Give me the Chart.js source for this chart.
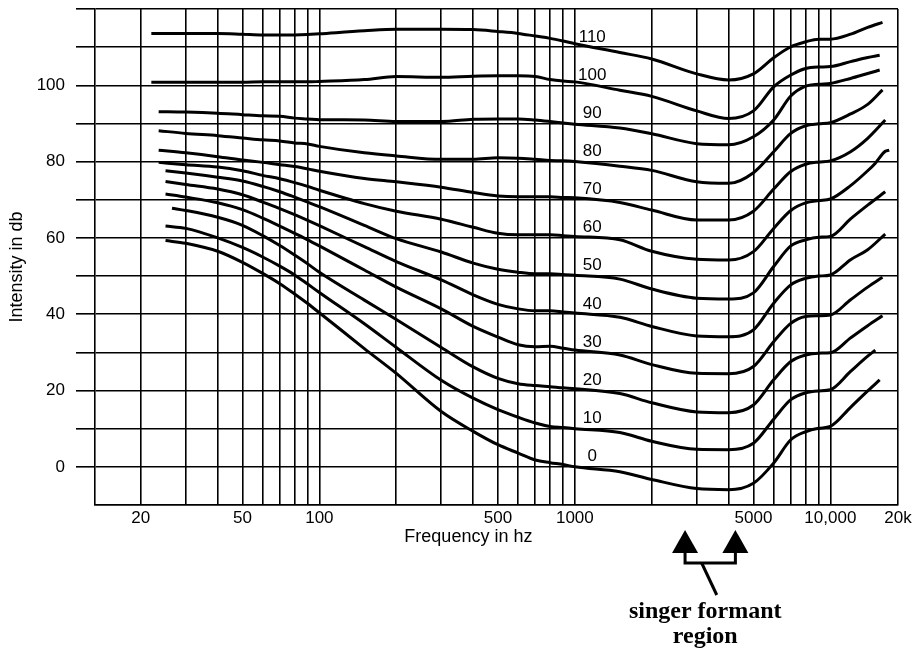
<!DOCTYPE html>
<html>
<head>
<meta charset="utf-8">
<script src="https://cdn.jsdelivr.net/npm/chart.js@4.4.1/dist/chart.umd.min.js"></script>
<style>
  html, body { margin: 0; padding: 0; background: #fff; }
</style>
</head>
<body>
<canvas id="chart" width="916" height="651"></canvas>
<script>
// Frequencies (Hz) shared by every curve; null = curve not drawn there
const freqs = [22, 23.5, 25, 26.5, 30, 40, 50, 60, 70, 80, 90, 100, 150, 200, 300, 400, 500, 600, 700, 800, 900,
  1000, 1500, 2000, 3000, 4000, 5000, 6000, 7000, 8000, 9000, 10000, 12000, 14000, 15000, 15600, 16000, 16400, 17000]

// Equal-loudness curves, intensity in dB
const phon110 = [113.6, null, null, null, 113.6, 113.6, 113.4, 113.2, 113.2, 113.2, 113.3, 113.5, 114.3, 114.7, 114.7, 114.6, 114.1, 113.6, 112.9, 112.3, 111.6,
  110.9, 108.6, 106.9, 103.0, 101.4, 103.0, 107.2, 110.1, 111.4, 112.1, 112.1, 113.4, 115.2, null, null, 116.5, null, null]
const phon100 = [100.8, null, null, null, 100.8, 100.8, 100.8, 100.9, 100.9, 100.9, 100.9, 101.0, 101.5, 102.3, 102.1, 102.4, 102.5, 102.5, 102.3, 101.5, 101.1,
  100.9, 98.7, 97.1, 93.3, 91.3, 93.3, 99.6, 102.7, 104.4, 104.8, 104.9, 106.2, 107.3, null, 107.9, null, null, null]
const phon90 = [null, 93.1, null, null, 93.0, 92.7, 92.3, 92.0, 91.9, 91.4, 91.2, 91.0, 90.9, 90.5, 90.5, 91.1, 91.2, 91.2, 90.9, 90.5, 90.1,
  89.8, 88.8, 87.3, 84.7, 84.4, 86.5, 90.9, 97.2, 99.8, 100.3, 100.5, 101.8, 103.1, null, 104.0, null, null, null]
const phon80 = [null, 88.1, null, null, 87.4, 86.8, 86.2, 85.7, 85.4, 84.9, 84.6, 84.0, 82.3, 81.5, 80.6, 80.6, 81.0, 80.9, 80.6, 80.3, 80.2,
  80.0, 78.8, 77.7, 74.7, 74.3, 77.1, 82.6, 87.4, 89.4, 89.9, 90.2, 92.5, 95.0, null, null, 98.8, null, null]
const phon70 = [null, 83.0, null, null, 82.3, 81.3, 80.4, 79.8, 79.2, 78.7, 78.1, 77.5, 75.6, 74.7, 73.3, 71.9, 71.0, 70.8, 70.8, 70.8, 70.6,
  70.5, 69.3, 67.3, 64.7, 64.7, 67.0, 72.8, 77.4, 79.3, 79.9, 80.2, 82.6, 86.1, null, null, null, 90.9, null]
const phon60 = [null, 79.8, null, null, 79.2, 78.6, 77.6, 76.4, 75.5, 74.5, 73.5, 72.5, 69.0, 67.0, 64.9, 62.8, 61.2, 60.8, 60.8, 60.8, 60.6,
  60.4, 59.5, 56.5, 54.4, 54.2, 56.4, 62.5, 67.2, 69.2, 69.8, 70.2, 73.7, 77.6, 79.6, null, null, 82.7, 83.0]
const phon50 = [null, null, 77.6, null, 77.0, 75.9, 74.9, 73.5, 72.1, 70.7, 69.4, 68.2, 63.3, 59.8, 56.3, 53.4, 51.8, 51.0, 50.6, 50.6, 50.4,
  50.2, 49.2, 46.6, 44.2, 44.0, 45.6, 52.5, 57.9, 59.5, 60.2, 60.4, 65.0, 68.6, null, null, null, 72.1, null]
const phon40 = [null, null, 74.8, null, 74.0, 72.8, 71.3, 69.4, 67.7, 66.1, 64.6, 63.2, 57.7, 53.8, 49.0, 45.1, 42.6, 41.4, 40.9, 40.9, 40.6,
  40.3, 39.2, 36.8, 34.3, 34.1, 35.9, 42.9, 47.7, 49.4, 50.0, 50.3, 54.3, 56.9, null, null, null, 61.0, null]
const phon30 = [null, null, 71.5, null, 70.7, 69.2, 67.4, 65.2, 63.1, 61.2, 59.5, 57.9, 51.6, 47.1, 41.4, 36.8, 34.0, 32.0, 31.5, 31.6, 31.1,
  30.6, 29.3, 26.8, 24.5, 24.4, 26.3, 32.8, 37.6, 39.4, 39.6, 39.8, 43.8, 47.1, null, null, 49.7, null, null]
const phon20 = [null, null, null, 67.8, 67.2, 65.4, 63.3, 60.6, 58.0, 55.5, 53.2, 51.0, 43.7, 38.6, 31.3, 26.2, 23.2, 21.8, 21.3, 21.0, 20.7,
  20.5, 19.2, 16.8, 14.4, 14.2, 16.2, 22.8, 27.6, 29.3, 29.8, 29.9, 33.8, 37.0, null, null, 39.6, null, null]
const phon10 = [null, null, 63.1, null, 62.5, 60.0, 57.5, 55.0, 52.6, 50.3, 47.9, 45.7, 37.5, 31.3, 22.7, 18.0, 15.0, 13.0, 11.5, 10.6, 10.3,
  10.0, 9.0, 6.7, 4.6, 4.5, 6.2, 12.5, 17.6, 19.4, 19.9, 20.2, 25.0, 29.0, 30.6, null, null, null, null]
const phon0 = [null, null, 59.3, null, 58.6, 56.5, 53.6, 50.7, 48.0, 45.3, 42.8, 40.4, 31.0, 24.5, 14.5, 9.3, 5.8, 3.6, 1.8, 1.1, 0.6,
  0.0, -1.3, -3.3, -5.7, -6.0, -4.3, 1.0, 7.1, 9.2, 10.1, 10.6, 15.6, 19.9, null, 22.8, null, null, null]

const phons = [110, 100, 90, 80, 70, 60, 50, 40, 30, 20, 10, 0]
const curves = [phon110, phon100, phon90, phon80, phon70, phon60, phon50, phon40, phon30, phon20, phon10, phon0]

// Axis ticks
const xGrid = [20, 30, 40, 50, 60, 70, 80, 90, 100, 200, 300, 400, 500, 600, 700, 800, 900,
  1000, 2000, 3000, 4000, 5000, 6000, 7000, 8000, 9000, 10000]
const xTickValues = [20, 50, 100, 500, 1000, 5000, 10000, 18400]
const xTickText = ['20', '50', '100', '500', '1000', '5000', '10,000', '20k']
const yGrid = [-10, 0, 10, 20, 30, 40, 50, 60, 70, 80, 90, 100, 110, 120]
const yTickValues = [0, 20, 40, 60, 80, 100]

// Singer formant band edges (Hz)
const formantHz = [2700, 4250]

const X_MIN = 13.24
const X_MAX = 18400
const ink = '#000'
const sans = "'Liberation Sans', Arial, sans-serif"

Chart.defaults.font.family = sans
Chart.defaults.color = ink

const overlay = {
  id: 'overlay',
  afterDraw(chart) {
    const { ctx, chartArea, scales: { x, y } } = chart
    ctx.save()
    ctx.fillStyle = ink
    ctx.strokeStyle = ink

    // curve labels, just above each curve past 1 kHz
    ctx.font = '17px ' + sans
    ctx.textAlign = 'center'
    ctx.textBaseline = 'middle'
    phons.forEach(p => {
      ctx.fillText(String(p), x.getPixelForValue(1170), y.getPixelForValue(p + 2.7))
    })

    // axis titles
    ctx.font = '18px ' + sans
    ctx.fillText('Frequency in hz', chartArea.left + (chartArea.right - chartArea.left) * 0.465, chartArea.bottom + 32)
    ctx.save()
    ctx.translate(17.5, chartArea.top + (chartArea.bottom - chartArea.top) * 0.52)
    ctx.rotate(-Math.PI / 2)
    ctx.fillText('Intensity in db', 0, 0)
    ctx.restore()

    // singer formant arrows
    const [xa, xb] = formantHz.map(f => x.getPixelForValue(f))
    const tip = chartArea.bottom + 25
    const base = chartArea.bottom + 48
    const bar = chartArea.bottom + 58
    ;[xa, xb].forEach(px => {
      ctx.beginPath()
      ctx.moveTo(px, tip)
      ctx.lineTo(px + 13, base)
      ctx.lineTo(px - 13, base)
      ctx.closePath()
      ctx.fill()
    })
    ctx.lineWidth = 3
    ctx.beginPath()
    ctx.moveTo(xa, base)
    ctx.lineTo(xa, bar)
    ctx.lineTo(xb, bar)
    ctx.lineTo(xb, base)
    ctx.stroke()
    ctx.beginPath()
    ctx.moveTo(xa + (xb - xa) * 0.33, bar)
    ctx.lineTo(xa + (xb - xa) * 0.63, bar + 32)
    ctx.stroke()

    const mid = (xa + xb) / 2 - 5
    ctx.font = "bold 24px 'Liberation Serif', 'Times New Roman', serif"
    ctx.textBaseline = 'alphabetic'
    ctx.fillText('singer formant', mid, chartArea.bottom + 113)
    ctx.fillText('region', mid, chartArea.bottom + 138)
    ctx.restore()
  }
}

const datasets = curves.map((vals, i) => ({
  label: phons[i] + ' phon',
  data: freqs.map((f, j) => ({ x: f, y: vals[j] })).filter(p => p.y !== null),
  borderColor: ink,
  borderWidth: 3,
  pointRadius: 0,
  fill: false,
  cubicInterpolationMode: 'monotone'
}))

const chart = new Chart(document.getElementById('chart'), {
  type: 'line',
  data: { datasets },
  options: {
    responsive: false,
    devicePixelRatio: 1,
    animation: false,
    events: [],
    layout: { padding: { top: 9, right: 18, bottom: 96, left: 0 } },
    plugins: {
      legend: { display: false },
      tooltip: { enabled: false }
    },
    scales: {
      x: {
        type: 'logarithmic',
        min: X_MIN,
        max: X_MAX,
        afterBuildTicks: scale => {
          scale.ticks = xGrid.concat([X_MAX]).map(v => ({ value: v }))
        },
        afterFit: scale => {
          scale.height = 50
          scale.paddingLeft = 0
          scale.paddingRight = 0
        },
        ticks: {
          autoSkip: false,
          maxRotation: 0,
          padding: 3,
          color: ink,
          font: { size: 17 },
          callback: value => {
            const i = xTickValues.indexOf(value)
            return i >= 0 ? xTickText[i] : ''
          }
        },
        grid: { color: ink, lineWidth: 1.6, drawTicks: false },
        border: { color: ink, width: 1.6 }
      },
      y: {
        type: 'linear',
        min: -10,
        max: 120,
        afterBuildTicks: scale => {
          scale.ticks = yGrid.map(v => ({ value: v }))
        },
        afterFit: scale => {
          scale.width = 95
          scale.paddingTop = 0
          scale.paddingBottom = 0
        },
        ticks: {
          padding: 11,
          color: ink,
          font: { size: 17 },
          callback: value => yTickValues.includes(value) ? String(value) : ''
        },
        grid: {
          color: ink,
          lineWidth: 1.6,
          tickLength: 19,
          tickWidth: 1.6,
          tickColor: c => (c.tick && c.tick.value === -10) ? 'rgba(0,0,0,0)' : ink
        },
        border: { color: ink, width: 1.6 }
      }
    }
  },
  plugins: [overlay]
})
</script>
</body>
</html>
